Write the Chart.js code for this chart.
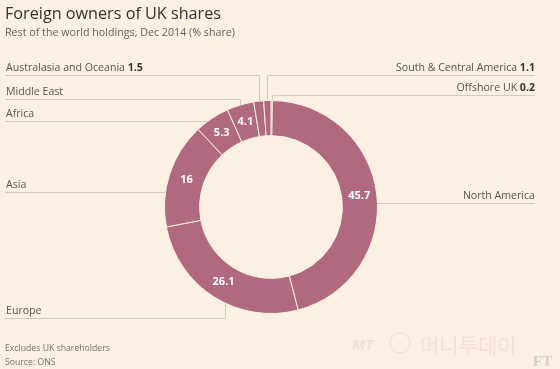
<!DOCTYPE html>
<html>
<head>
<meta charset="utf-8">
<script src="https://cdn.jsdelivr.net/npm/chart.js@4.4.1/dist/chart.umd.min.js"></script>
<style>
  html, body { margin: 0; padding: 0; background: #fcf0e2; }
  canvas { display: block; }
</style>
</head>
<body>
<canvas id="c" width="560" height="369"></canvas>
<script>
// ---- data ----
const categories = ['Offshore UK', 'North America', 'Europe', 'Asia', 'Africa', 'Middle East', 'Australasia and Oceania', 'South & Central America'];
const shares = [0.2, 45.7, 26.1, 16, 5.3, 4.1, 1.5, 1.1];
const valueLabels = ['0.2', '45.7', '26.1', '16', '5.3', '4.1', '1.5', '1.1'];
const showInside = [false, true, true, true, true, true, false, false];
const showValueInLabel = [true, false, false, false, false, false, true, true];

// ---- layout of callouts (annotation layout, not data) ----
const callouts = [
  { side: 'right', y: 95,  style: 'elbow', f: 0.5 },
  { side: 'right', y: 203, style: 'edge',  f: 0.5 },
  { side: 'left',  y: 318, style: 'elbow', f: 0.43 },
  { side: 'left',  y: 192, style: 'edge',  f: 0.5 },
  { side: 'left',  y: 121, style: 'edge',  f: 0.5 },
  { side: 'left',  y: 99,  style: 'elbow', f: 0.5 },
  { side: 'left',  y: 75,  style: 'elbow', f: 0.5 },
  { side: 'right', y: 75,  style: 'elbow', f: 0.5 }
];

const BG = '#fcf0e2';
const SLICE = '#b0697f';
const LINE = '#d3c9bd';
const FONT = '"Open Sans", "Noto Sans", sans-serif';
const LEFT_X = 5, RIGHT_X = 535;
const LABEL_PX = 10.6;

const decor = {
  id: 'decor',
  beforeDraw(chart) {
    const ctx = chart.ctx;
    ctx.save();
    ctx.fillStyle = BG;
    ctx.fillRect(0, 0, chart.width, chart.height);
    ctx.restore();
  },
  afterDatasetsDraw(chart) {
    const ctx = chart.ctx;
    const meta = chart.getDatasetMeta(0);
    ctx.save();

    ctx.strokeStyle = LINE;
    ctx.lineWidth = 1;
    meta.data.forEach((arc, i) => {
      const c = callouts[i];
      const cx = arc.x, cy = arc.y, R = arc.outerRadius;
      const a = arc.startAngle + c.f * (arc.endAngle - arc.startAngle);
      const ax = cx + R * Math.cos(a), ay = cy + R * Math.sin(a);
      const ly = Math.round(c.y) + 0.5;
      ctx.beginPath();
      if (c.style === 'elbow') {
        const vx = Math.round(ax) + 0.5;
        if (c.side === 'left') { ctx.moveTo(LEFT_X, ly); ctx.lineTo(vx, ly); }
        else { ctx.moveTo(RIGHT_X, ly); ctx.lineTo(vx, ly); }
        ctx.lineTo(vx, ay);
      } else {
        const dy = c.y - cy;
        const dx = Math.sqrt(Math.max(R * R - dy * dy, 0));
        if (c.side === 'left') { ctx.moveTo(LEFT_X, ly); ctx.lineTo(cx - dx, ly); }
        else { ctx.moveTo(RIGHT_X, ly); ctx.lineTo(cx + dx, ly); }
      }
      ctx.stroke();

      const ty = c.y - 4;
      ctx.textBaseline = 'alphabetic';
      const name = categories[i];
      const val = showValueInLabel[i] ? ' ' + valueLabels[i] : '';
      ctx.font = LABEL_PX + 'px ' + FONT;
      const wName = ctx.measureText(name).width;
      ctx.font = 'bold ' + LABEL_PX + 'px ' + FONT;
      const wVal = val ? ctx.measureText(val).width : 0;
      let x0 = c.side === 'left' ? LEFT_X + 1 : RIGHT_X - wName - wVal;
      ctx.textAlign = 'left';
      ctx.fillStyle = '#5a5450';
      ctx.font = LABEL_PX + 'px ' + FONT;
      ctx.fillText(name, x0, ty);
      if (val) {
        ctx.fillStyle = '#3a3532';
        ctx.font = 'bold ' + LABEL_PX + 'px ' + FONT;
        ctx.fillText(val, x0 + wName, ty);
      }
    });

    ctx.fillStyle = '#ffffff';
    ctx.font = 'bold 11px ' + FONT;
    ctx.textAlign = 'center';
    ctx.textBaseline = 'middle';
    meta.data.forEach((arc, i) => {
      if (!showInside[i]) return;
      const p = arc.tooltipPosition();
      ctx.fillText(valueLabels[i], p.x, p.y);
    });

    ctx.textAlign = 'left';
    ctx.textBaseline = 'alphabetic';
    ctx.fillStyle = '#33302e';
    ctx.font = '16.2px ' + FONT;
    ctx.fillText('Foreign owners of UK shares', 5, 19);
    ctx.fillStyle = '#66605c';
    ctx.font = '10.7px ' + FONT;
    ctx.fillText('Rest of the world holdings, Dec 2014 (% share)', 5, 36);

    ctx.fillStyle = '#7a726c';
    ctx.font = '8.7px ' + FONT;
    ctx.fillText('Excludes UK shareholders', 5, 351);
    ctx.fillText('Source: ONS', 5, 365);

    // watermark
    ctx.fillStyle = '#efe2d3';
    ctx.font = 'italic bold 15px ' + FONT;
    ctx.fillText('MT', 352, 350);
    ctx.strokeStyle = '#e9dccd';
    ctx.beginPath();
    ctx.ellipse(400, 343, 10, 10, 0, 0, Math.PI * 2);
    ctx.stroke();
    ctx.font = '21px "Noto Sans CJK KR", sans-serif';
    ctx.fillText('머니투데이', 420, 353);
    ctx.fillStyle = '#d9cfc5';
    ctx.font = 'bold 15px "Liberation Serif", serif';
    ctx.fillText('FT', 533, 366);

    ctx.restore();
  }
};

new Chart(document.getElementById('c'), {
  type: 'doughnut',
  data: {
    labels: categories,
    datasets: [{
      data: shares,
      backgroundColor: SLICE,
      borderColor: BG,
      borderWidth: 1,
      hoverOffset: 0
    }]
  },
  options: {
    responsive: false,
    animation: false,
    cutout: '67%',
    layout: { padding: { top: 100, bottom: 55, left: 164, right: 182 } },
    plugins: {
      legend: { display: false },
      tooltip: { enabled: false },
      title: { display: false }
    },
    events: []
  },
  plugins: [decor]
});
</script>
</body>
</html>
